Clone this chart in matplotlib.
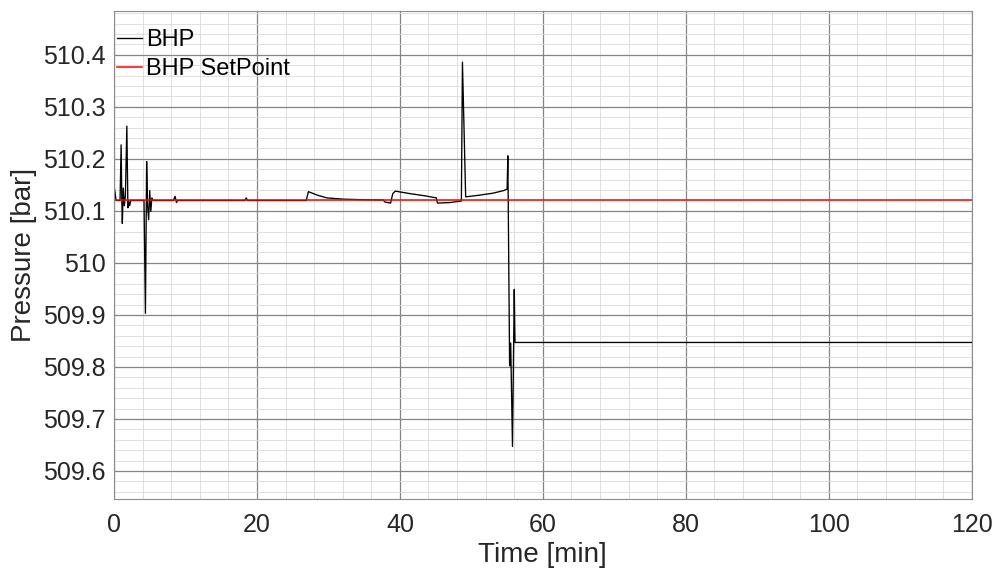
import matplotlib
matplotlib.use("Agg")
import matplotlib.pyplot as plt
from matplotlib.ticker import MultipleLocator

# BHP trace (time in min, pressure in bar)
bhp_time = [0.0, 0.05, 0.3, 0.85, 1.0, 1.1, 1.17, 1.3, 1.45, 1.6, 1.8, 1.95, 2.05, 2.2, 2.35,
            2.6, 4.2, 4.4, 4.57, 4.7, 4.85, 5.0, 5.15, 5.3, 5.5,
            8.3, 8.55, 8.75, 8.9, 18.3, 18.5, 18.7,
            26.9, 27.2, 28.5, 29.8, 32.1, 35.0, 37.7, 37.9, 38.7, 39.0, 39.35,
            41.5, 43.5, 45.1, 45.25, 47.0, 48.6, 48.75, 49.2, 51.0, 53.0, 54.5, 55.0,
            55.1, 55.35, 55.5, 55.75, 56.0, 56.1, 120.0]
bhp_value = [510.153, 510.145, 510.120, 510.120, 510.227, 510.120, 510.076, 510.144, 510.110, 510.130, 510.263, 510.106, 510.120, 510.110, 510.120,
             510.120, 510.120, 509.903, 510.195, 510.110, 510.083, 510.139, 510.099, 510.125, 510.120,
             510.120, 510.128, 510.116, 510.120, 510.120, 510.125, 510.120,
             510.120, 510.137, 510.130, 510.125, 510.1225, 510.1215, 510.121, 510.117, 510.115, 510.133, 510.138,
             510.133, 510.129, 510.125, 510.115, 510.116, 510.119, 510.386, 510.127, 510.130, 510.134, 510.139, 510.142,
             510.206, 509.802, 509.846, 509.647, 509.949, 509.847, 509.847]

setpoint_time = [0.0, 120.0]
setpoint_value = [510.12, 510.12]

x_ticks = [0, 20, 40, 60, 80, 100, 120]
y_ticks = [509.6, 509.7, 509.8, 509.9, 510.0, 510.1, 510.2, 510.3, 510.4]
y_tick_labels = ["509.6", "509.7", "509.8", "509.9", "510", "510.1", "510.2", "510.3", "510.4"]

plt.rcParams['font.family'] = ['Liberation Sans', 'DejaVu Sans']

fig = plt.figure(figsize=(9.98, 5.71), dpi=100)
ax = fig.add_axes([0.1142, 0.1261, 0.8595, 0.8552])

ax.plot(bhp_time, bhp_value, color='black', lw=0.95, label='BHP')
ax.plot(setpoint_time, setpoint_value, color='#ff0000', lw=1.1, label='BHP SetPoint')

ax.set_xlim(0, 120)
ax.set_ylim(509.546, 510.485)
ax.set_xticks(x_ticks)
ax.set_xticklabels([str(v) for v in x_ticks])
ax.set_yticks(y_ticks)
ax.set_yticklabels(y_tick_labels)
ax.xaxis.set_minor_locator(MultipleLocator(4))
ax.yaxis.set_minor_locator(MultipleLocator(0.02))

ax.grid(which='major', color='#858585', lw=0.9)
ax.grid(which='minor', color='#dadada', lw=0.6)
ax.set_axisbelow(True)

for s in ax.spines.values():
    s.set_color('#8c8c8c')
    s.set_linewidth(0.8)

ax.tick_params(which='both', length=0, labelsize=18, colors='#262626', pad=6)
ax.tick_params(axis='x', pad=10)
ax.set_xlabel('Time [min]', fontsize=20, color='#262626', labelpad=4)
ax.set_ylabel('Pressure [bar]', fontsize=20, color='#262626', labelpad=4)

leg = ax.legend(loc='upper left', bbox_to_anchor=(0.0035, 0.962), frameon=False,
                fontsize=17, handlelength=1.05, handletextpad=0.2, borderaxespad=0,
                borderpad=0, labelspacing=0.3)

fig.savefig('out.png', dpi=100, facecolor='white')
